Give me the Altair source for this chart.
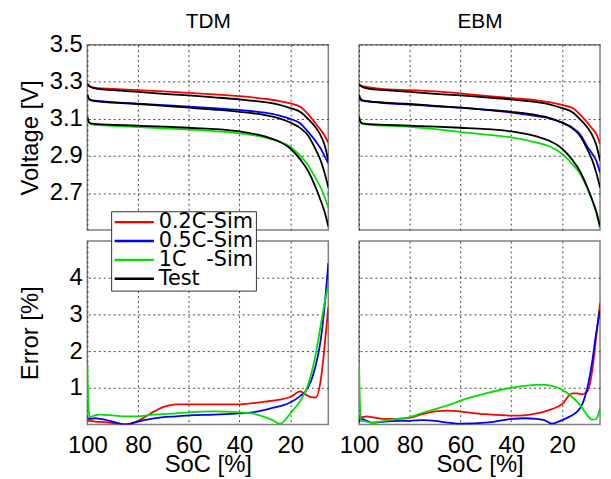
import altair as alt
import pandas as pd

FONT = "Liberation Sans"
LEGEND_FONT = "DejaVu Sans"

# ---------------- data ----------------
series_names = ["0.2C-Sim", "0.5C-Sim", "1C\u00a0\u00a0\u00a0-Sim", "Test"]
series_colors = ["#ff0000", "#0000ff", "#00e000", "#000000"]
panel_titles = ["TDM", "EBM"]

soc_v = [100, 99.5, 99, 98, 96, 90, 80, 70, 60, 50, 40, 30, 25, 20, 16, 13, 10, 8, 6.5, 5]

test_02 = [3.29, 3.28, 3.275, 3.268, 3.262, 3.255, 3.245, 3.235, 3.226, 3.216, 3.205, 3.19, 3.178, 3.158, 3.137, 3.10, 3.054, 3.01, 2.96, 2.875]
test_05 = [3.23, 3.21, 3.203, 3.198, 3.194, 3.188, 3.18, 3.17, 3.16, 3.15, 3.138, 3.12, 3.105, 3.08, 3.05, 3.01, 2.935, 2.875, 2.81, 2.73]
test_1 = [3.11, 3.085, 3.078, 3.074, 3.071, 3.068, 3.063, 3.058, 3.052, 3.045, 3.032, 3.005, 2.982, 2.94, 2.88, 2.82, 2.73, 2.66, 2.60, 2.52]

tdm_02 = [3.29, 3.28, 3.275, 3.27, 3.266, 3.262, 3.255, 3.248, 3.240, 3.232, 3.222, 3.208, 3.198, 3.183, 3.165, 3.125, 3.075, 3.04, 3.01, 2.97]
tdm_05 = [3.23, 3.21, 3.205, 3.2, 3.197, 3.19, 3.182, 3.174, 3.166, 3.158, 3.148, 3.133, 3.12, 3.10, 3.075, 3.03, 2.98, 2.94, 2.90, 2.86]
tdm_1 = [3.11, 3.085, 3.075, 3.07, 3.066, 3.062, 3.056, 3.049, 3.042, 3.034, 3.022, 3.0, 2.98, 2.95, 2.90, 2.85, 2.78, 2.73, 2.68, 2.62]

ebm_02 = [3.28, 3.279, 3.278, 3.275, 3.27, 3.26, 3.255, 3.248, 3.237, 3.224, 3.212, 3.2, 3.19, 3.175, 3.16, 3.126, 3.08, 3.046, 3.02, 2.964]
ebm_05 = [3.215, 3.205, 3.198, 3.196, 3.193, 3.185, 3.177, 3.168, 3.16, 3.148, 3.134, 3.115, 3.103, 3.08, 3.053, 3.019, 2.95, 2.91, 2.875, 2.81]
ebm_1 = [3.11, 3.085, 3.076, 3.071, 3.068, 3.063, 3.057, 3.045, 3.029, 3.015, 3.0, 2.972, 2.952, 2.912, 2.858, 2.806, 2.725, 2.657, 2.596, 2.51]

soc_e = [100, 99.5, 99, 97, 95, 90, 85, 80, 75, 70, 65, 60, 50, 40, 35, 30, 27, 24, 20, 16, 14, 12, 10, 8, 6.5, 5]

err_tdm_02 = [0.1, 0.1, 0.1, 0.08, 0.07, 0.04, 0.0, 0.1, 0.3, 0.48, 0.55, 0.55, 0.55, 0.55, 0.58, 0.62, 0.65, 0.68, 0.75, 0.9, 0.82, 0.75, 0.73, 1.2, 2.1, 3.2]
err_tdm_05 = [0.2, 0.15, 0.15, 0.17, 0.15, 0.08, 0.0, 0.08, 0.15, 0.2, 0.22, 0.25, 0.27, 0.3, 0.33, 0.4, 0.45, 0.5, 0.6, 0.78, 0.9, 1.15, 1.6, 2.3, 3.2, 4.4]
err_tdm_1 = [1.65, 0.4, 0.2, 0.25, 0.27, 0.25, 0.22, 0.22, 0.26, 0.28, 0.3, 0.33, 0.36, 0.33, 0.3, 0.2, 0.12, 0.02, 0.3, 0.65, 0.9, 1.3, 1.9, 2.7, 3.3, 3.8]

err_ebm_02 = [0.15, 0.2, 0.2, 0.22, 0.2, 0.15, 0.15, 0.18, 0.28, 0.36, 0.38, 0.35, 0.28, 0.24, 0.25, 0.3, 0.35, 0.42, 0.55, 0.85, 0.85, 0.82, 0.9, 1.5, 2.4, 3.3]
err_ebm_05 = [0.05, 0.15, 0.15, 0.1, 0.05, 0.08, 0.1, 0.1, 0.12, 0.1, 0.05, 0.02, 0.05, 0.15, 0.17, 0.15, 0.12, 0.02, 0.12, 0.25, 0.35, 0.55, 1.0, 1.75, 2.5, 3.1]
err_ebm_1 = [1.7, 0.3, 0.1, 0.08, 0.05, 0.1, 0.15, 0.2, 0.32, 0.42, 0.52, 0.65, 0.85, 1.0, 1.05, 1.08, 1.08, 1.05, 0.95, 0.75, 0.62, 0.45, 0.25, 0.13, 0.15, 0.45]


def long_df(soc, curves):
    rows = []
    for order, (name, curve_id, vals) in enumerate(curves):
        for s, v in zip(soc, vals):
            rows.append({"soc": s, "val": v, "series": name, "curve": curve_id, "order": order})
    return pd.DataFrame(rows)


S02, S05, S1, TST = series_names
v_tdm = long_df(soc_v, [(S02, "s02", tdm_02), (S05, "s05", tdm_05), (S1, "s1", tdm_1),
                        (TST, "t02", test_02), (TST, "t05", test_05), (TST, "t1", test_1)])
v_ebm = long_df(soc_v, [(S02, "s02", ebm_02), (S05, "s05", ebm_05), (S1, "s1", ebm_1),
                        (TST, "t02", test_02), (TST, "t05", test_05), (TST, "t1", test_1)])
e_tdm = long_df(soc_e, [(S02, "s02", err_tdm_02), (S05, "s05", err_tdm_05), (S1, "s1", err_tdm_1)])
e_ebm = long_df(soc_e, [(S02, "s02", err_ebm_02), (S05, "s05", err_ebm_05), (S1, "s1", err_ebm_1)])

W, HT, HB = 243, 187, 185


def xenc(show, top_title=None):
    kw = dict(values=[20, 40, 60, 80, 100], grid=True, ticks=False, domain=False)
    if show:
        ax = alt.Axis(labels=True, title="SoC [%]", labelPadding=9, titleY=28,
                      labelOverlap=False, labelFlush=False, **kw)
    else:
        ax = alt.Axis(labels=False, title=top_title, orient="top", titleFontSize=21,
                      titlePadding=13, titleBaseline="bottom", **kw)
    return alt.X("soc:Q", scale=alt.Scale(domain=[5, 100], reverse=True, nice=False, zero=False), axis=ax)


def yenc(kind, show):
    if kind == "v":
        dom, vals, ttl, fmt = [2.5, 3.5], [2.7, 2.9, 3.1, 3.3, 3.5], "Voltage [V]", ".1f"
    else:
        dom, vals, ttl, fmt = [0, 5], [1, 2, 3, 4], "Error [%]", "d"
    if show:
        ax = alt.Axis(values=vals, format=fmt, grid=True, ticks=False, domain=False, title=ttl,
                      labelPadding=5, titleX=-45, labelOverlap=False, labelFlush=False)
    else:
        ax = alt.Axis(values=vals, grid=True, ticks=False, domain=False, labels=False, title=None)
    return alt.Y("val:Q", scale=alt.Scale(domain=dom, nice=False, zero=False), axis=ax)


def cenc(legend):
    sc = alt.Scale(domain=series_names, range=series_colors)
    if legend:
        lg = alt.Legend(orient="none", legendX=24, legendY=-30, title=None,
                        symbolType="M-1,0H3.4", symbolSize=324, symbolStrokeWidth=2.4,
                        labelFontSize=21, labelFont=LEGEND_FONT, clipHeight=18,
                        labelColor="#000000", strokeColor="#333333", fillColor="#ffffff",
                        padding=2, rowPadding=-3, labelOffset=25, labelLimit=0)
        return alt.Color("series:N", scale=sc, legend=lg)
    return alt.Color("series:N", scale=sc, legend=None)


def panel(df, kind, showx, showy, legend=False, top_title=None, h=HT):
    return alt.Chart(df).mark_line(clip=True, strokeWidth=1.8, interpolate="monotone").encode(
        x=xenc(showx, top_title), y=yenc(kind, showy), color=cenc(legend), detail="curve:N",
        order=alt.Order("order:Q"),
    ).properties(width=W, height=h)


tl = panel(v_tdm, "v", False, True, top_title=panel_titles[0], h=HT)
tr = panel(v_ebm, "v", False, False, top_title=panel_titles[1], h=HT)
bl = panel(e_tdm, "e", True, True, legend=True, h=HB)
br = panel(e_ebm, "e", True, False, h=HB)

chart = alt.concat(tl, tr, bl, br, columns=2, spacing={"row": 11, "column": 31}, bounds="flush").resolve_scale(
    color="independent").resolve_legend(color="independent").properties(
    padding={"left": 10, "top": 0, "right": 2, "bottom": 0}
).configure_view(stroke="#808080", strokeWidth=1.5).configure_axis(
    gridColor="#333333", gridDash=[2, 3], gridWidth=1, gridOpacity=0.9,
    labelFont=FONT, titleFont=FONT, labelFontSize=24, titleFontSize=24,
    labelColor="#000000", titleColor="#000000", titleFontWeight="normal",
)

chart.save("out.html", embed_options={"renderer": "svg", "actions": False})
